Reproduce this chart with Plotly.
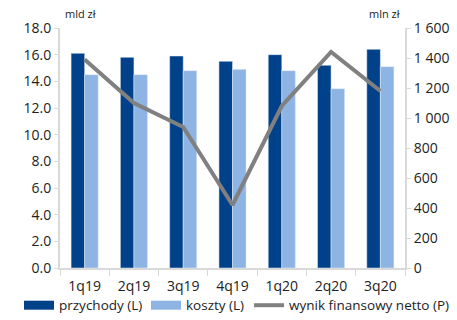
import plotly.graph_objects as go

categories = ["1q19", "2q19", "3q19", "4q19", "1q20", "2q20", "3q20"]
revenue = [16.1, 15.8, 15.9, 15.5, 16.0, 15.2, 16.4]
costs = [14.5, 14.5, 14.8, 14.9, 14.8, 13.45, 15.1]
net_result = [1390, 1100, 940, 420, 1080, 1440, 1180]
left_ticks = [0, 2, 4, 6, 8, 10, 12, 14, 16, 18]
right_ticks = [0, 200, 400, 600, 800, 1000, 1200, 1400, 1600]

FONT = "Open Sans"
DARK = "#00418A"
LIGHT = "#8EB4E3"
GREY = "#808080"

fig = go.Figure()
fig.add_bar(x=categories, y=revenue, name="przychody (L)", marker_color=DARK, yaxis="y",
            showlegend=False)
fig.add_bar(x=categories, y=costs, name="koszty (L)", marker_color=LIGHT, yaxis="y",
            showlegend=False)
fig.add_scatter(x=categories, y=net_result, name="wynik finansowy netto (P)", mode="lines",
                line=dict(color=GREY, width=4), yaxis="y2", showlegend=False)

# legend entries (rectangular swatches like the original)
fig.add_scatter(x=[None], y=[None], name="przychody (L)", mode="lines",
                line=dict(color=DARK, width=9), legendwidth=82, legend="legend")
fig.add_scatter(x=[None], y=[None], name="koszty (L)", mode="lines",
                line=dict(color=LIGHT, width=9), legendwidth=60, legend="legend")
fig.add_scatter(x=[None], y=[None], name="wynik finansowy netto (P)", mode="lines",
                line=dict(color=GREY, width=4), yaxis="y2", legend="legend2")

legend_common = dict(orientation="h", xref="container", yref="container",
                     xanchor="left", y=0.094, yanchor="top",
                     font=dict(size=13.5), itemwidth=30, tracegroupgap=0,
                     bgcolor="rgba(0,0,0,0)")

fig.update_layout(
    width=457, height=320,
    margin=dict(l=60, r=52, t=28, b=52),
    paper_bgcolor="white", plot_bgcolor="white",
    font=dict(family=FONT, size=13, color="#222"),
    barmode="group", bargap=0.45, bargroupgap=0,
    showlegend=True,
    legend=dict(x=0.0416, **legend_common),
    legend2=dict(x=0.545, **legend_common),
    xaxis=dict(type="category", showline=True, linecolor="#d9d9d9", linewidth=2,
               ticks="outside", tickson="boundaries", ticklen=6, tickcolor="#d9d9d9",
               showgrid=False, ticklabelstandoff=4, tickfont=dict(size=14), automargin=False),
    yaxis=dict(range=[0, 18], tickvals=left_ticks, ticktext=[f"{v:.1f}" for v in left_ticks],
               showline=True, linecolor="#d9d9d9", linewidth=2, ticks="outside", ticklen=4,
               tickcolor="#d9d9d9", showgrid=False, zeroline=False, tickfont=dict(size=14),
               automargin=False),
    yaxis2=dict(range=[0, 1600], tickvals=right_ticks,
                ticktext=[f"{v:,}".replace(",", " ") for v in right_ticks],
                overlaying="y", side="right", showline=True, linecolor="#d9d9d9", linewidth=2,
                ticks="outside", ticklen=4, tickcolor="#d9d9d9", showgrid=False, zeroline=False,
                tickfont=dict(size=14), automargin=False),
    annotations=[
        dict(text="mld zł", xref="paper", yref="paper", x=0.01, y=1.02, xanchor="left",
             yanchor="bottom", showarrow=False, font=dict(size=11)),
        dict(text="mln zł", xref="paper", yref="paper", x=0.99, y=1.02, xanchor="right",
             yanchor="bottom", showarrow=False, font=dict(size=11)),
    ],
)
fig.write_html("out.html")
